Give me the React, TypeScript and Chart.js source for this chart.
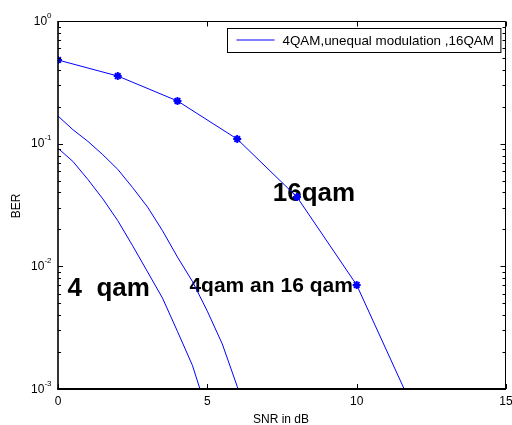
import { useEffect, useRef } from "react";
import { Chart, registerables } from "chart.js";

Chart.register(...registerables);

// ---- data ----
const snrFine = [0, 0.5, 1, 1.5, 2, 2.5, 3, 3.5, 4, 4.5, 5, 5.5, 6, 6.5];
const ber4qam = [0.0917, 0.0716, 0.0511, 0.0355, 0.0236, 0.0147, 0.009, 0.0055, 0.00295, 0.00156, 0.00065];
const berUnequal = [0.168, 0.13, 0.1045, 0.0813, 0.0618, 0.0438, 0.0304, 0.0195, 0.0119, 0.00754, 0.00431, 0.00233, 0.00105, 0.00045];
const snrMarked = [0, 2, 4, 6, 8, 10, 12];
const ber16qam = [0.481, 0.356, 0.223, 0.109, 0.0368, 0.00705, 0.000605];

const xTickValues = [0, 5, 10, 15];
const yDecades = [0, -1, -2, -3];
const legendLabel = "4QAM,unequal modulation ,16QAM";
const xTitle = "SNR in dB";
const yTitle = "BER";
const noteTexts = ["16qam", "4  qam", "4qam an 16 qam"];
const noteX = [7.19, 0.32, 4.4];
const noteY = [0.0341, 0.00577, 0.00622];

const FONT = '"Liberation Sans", Arial, Helvetica, sans-serif';
const BLUE = "#0000ff";

function pairs(xs: number[], ys: number[]) {
  return ys.map((y, i) => ({ x: xs[i], y }));
}

const decorPlugin = {
  id: "decor",
  beforeDatasetsDraw(chart: any) {
    const ctx = chart.ctx as CanvasRenderingContext2D;
    const xs = chart.scales.x;
    const ys = chart.scales.y;
    const sizes = [26, 26, 21];
    ctx.save();
    ctx.fillStyle = "#000";
    ctx.textAlign = "left";
    ctx.textBaseline = "alphabetic";
    noteTexts.forEach((t, i) => {
      ctx.font = `bold ${sizes[i]}px ${FONT}`;
      ctx.fillText(t, xs.getPixelForValue(noteX[i]), ys.getPixelForValue(noteY[i]));
    });
    ctx.restore();
  },
  afterDatasetsDraw(chart: any) {
    const ctx = chart.ctx as CanvasRenderingContext2D;
    const a = chart.chartArea;
    const xs = chart.scales.x;
    const ys = chart.scales.y;
    const L = Math.round(a.left);
    const R = Math.round(a.right) - 0.5;
    const T = Math.round(a.top) + 0.5;
    const B = Math.round(a.bottom);
    ctx.save();
    ctx.strokeStyle = "#000";
    // box
    ctx.lineWidth = 1;
    ctx.beginPath();
    ctx.moveTo(L, T);
    ctx.lineTo(R, T);
    ctx.moveTo(R, T);
    ctx.lineTo(R, B);
    ctx.stroke();
    ctx.lineWidth = 1.6;
    ctx.beginPath();
    ctx.moveTo(L, T - 0.5);
    ctx.lineTo(L, B);
    ctx.stroke();
    ctx.lineWidth = 2;
    ctx.beginPath();
    ctx.moveTo(L - 0.8, B);
    ctx.lineTo(R + 0.5, B);
    ctx.stroke();

    // y ticks
    ctx.lineWidth = 1;
    ctx.beginPath();
    for (let d = -3; d <= 0; d++) {
      const yp = Math.round(ys.getPixelForValue(Math.pow(10, d))) + 0.5;
      ctx.moveTo(L, yp);
      ctx.lineTo(L + 5, yp);
      ctx.moveTo(R, yp);
      ctx.lineTo(R - 5, yp);
      if (d < 0) {
        for (let m = 2; m <= 9; m++) {
          const ym = Math.round(ys.getPixelForValue(m * Math.pow(10, d))) + 0.5;
          ctx.moveTo(L, ym);
          ctx.lineTo(L + 3, ym);
          ctx.moveTo(R, ym);
          ctx.lineTo(R - 3, ym);
        }
      }
    }
    // x ticks
    xTickValues.forEach((v) => {
      const xp = Math.round(xs.getPixelForValue(v)) + 0.5;
      ctx.moveTo(xp, B);
      ctx.lineTo(xp, B - 5);
      ctx.moveTo(xp, T);
      ctx.lineTo(xp, T + 5);
    });
    ctx.stroke();

    // y tick labels 10^d
    ctx.fillStyle = "#000";
    yDecades.forEach((d) => {
      const yp = ys.getPixelForValue(Math.pow(10, d));
      const exp = String(d);
      ctx.font = `8px ${FONT}`;
      const ew = ctx.measureText(exp).width;
      const baseRight = a.left - 6.5 - ew;
      ctx.font = `12px ${FONT}`;
      ctx.textAlign = "right";
      ctx.textBaseline = "middle";
      ctx.fillText("10", baseRight, yp + 0.5);
      ctx.font = `8px ${FONT}`;
      ctx.textAlign = "left";
      ctx.textBaseline = "alphabetic";
      ctx.fillText(exp, baseRight, yp - 3.5);
    });

    // axis titles
    ctx.font = `12px ${FONT}`;
    ctx.textAlign = "center";
    ctx.textBaseline = "alphabetic";
    ctx.fillText(xTitle, (a.left + a.right) / 2 - 1, 423);
    ctx.save();
    ctx.translate(20, (a.top + a.bottom) / 2 + 1);
    ctx.rotate(-Math.PI / 2);
    ctx.fillText(yTitle, 0, 0);
    ctx.restore();

    // legend
    ctx.font = `13.4px ${FONT}`;
    const tw = ctx.measureText(legendLabel).width;
    const bw = 9 + 38 + 8 + tw + 7;
    const bx = Math.round(a.right - 5.5 - bw) + 0.5;
    const by = Math.round(a.top + 7) + 0.5;
    const bh = 24;
    ctx.fillStyle = "#fff";
    ctx.fillRect(bx, by, bw, bh);
    ctx.strokeStyle = "#000";
    ctx.lineWidth = 1;
    ctx.strokeRect(bx, by, bw, bh);
    ctx.strokeStyle = BLUE;
    ctx.beginPath();
    ctx.moveTo(bx + 9, by + 11.5);
    ctx.lineTo(bx + 47, by + 11.5);
    ctx.stroke();
    ctx.fillStyle = "#000";
    ctx.textAlign = "left";
    ctx.textBaseline = "middle";
    ctx.fillText(legendLabel, bx + 55, by + 12.5);
    ctx.restore();
  },
};

export default function App() {
  const ref = useRef<HTMLCanvasElement | null>(null);
  useEffect(() => {
    if (!ref.current) return;
    const chart = new Chart(ref.current, {
      type: "line",
      data: {
        datasets: [
          {
            label: legendLabel,
            data: pairs(snrFine, ber4qam),
            borderColor: BLUE,
            borderWidth: 1,
            pointRadius: 0,
            tension: 0,
            fill: false,
          },
          {
            label: "unequal",
            data: pairs(snrFine, berUnequal),
            borderColor: BLUE,
            borderWidth: 1,
            pointRadius: 0,
            tension: 0,
            fill: false,
          },
          {
            label: "16qam",
            data: pairs(snrMarked, ber16qam),
            borderColor: BLUE,
            backgroundColor: BLUE,
            borderWidth: 1,
            pointStyle: "star",
            pointRadius: 4,
            pointBorderWidth: 2,
            pointBorderColor: BLUE,
            tension: 0,
            fill: false,
          },
        ],
      },
      options: {
        animation: false,
        responsive: true,
        maintainAspectRatio: false,
        events: [],
        layout: { padding: { top: 21, left: 0, right: 6, bottom: 0 } },
        plugins: {
          legend: { display: false },
          tooltip: { enabled: false },
        },
        scales: {
          x: {
            type: "linear",
            min: 0,
            max: 15,
            grid: { display: false, drawTicks: false },
            border: { display: false },
            ticks: {
              stepSize: 5,
              color: "#000",
              padding: 5,
              maxRotation: 0,
              font: { family: FONT, size: 12 },
            },
            afterFit(scale: any) {
              scale.height = 36;
              scale.paddingLeft = 0;
              scale.paddingRight = 0;
            },
          },
          y: {
            type: "logarithmic",
            min: 0.001,
            max: 1,
            grid: { display: false, drawTicks: false },
            border: { display: false },
            ticks: { display: false },
            afterFit(scale: any) {
              scale.width = 58;
              scale.paddingTop = 0;
              scale.paddingBottom = 0;
            },
          },
        },
      },
      plugins: [decorPlugin],
    });
    return () => chart.destroy();
  }, []);
  return (
    <div style={{ position: "fixed", left: 0, top: 0, width: 512, height: 425, background: "#fff" }}>
      <canvas ref={ref} />
    </div>
  );
}
